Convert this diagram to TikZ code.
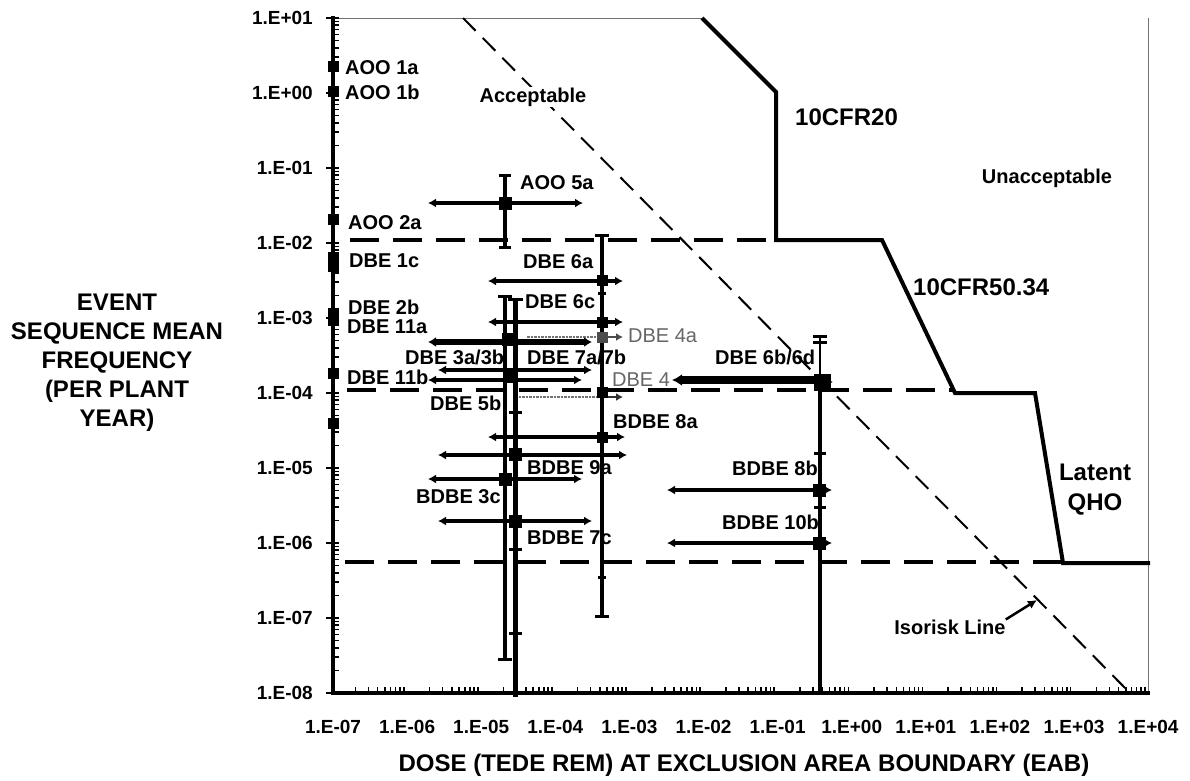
\documentclass[tikz,border=0pt]{standalone}
\usepackage{fontspec}
\setmainfont{Liberation Sans}
\usetikzlibrary{arrows.meta}
\begin{document}
\begin{tikzpicture}[x=1pt,y=-1pt,
  axisline/.style={line width=4pt},
  frameline/.style={line width=0.8pt, black!55},
  limitline/.style={line width=4pt, line join=miter},
  hdash/.style={line width=3.5pt, dash pattern=on 29pt off 14pt},
  isoline/.style={line width=2pt, dash pattern=on 18pt off 10pt},
  ebar/.style={line width=4pt},
  capline/.style={line width=3pt},
  hbar/.style={line width=4pt, {Latex[length=8pt,width=9pt]}-{Latex[length=8pt,width=9pt]}},
  thinbar/.style={line width=2.5pt, black!55, densely dotted},
  mk/.style={fill=black, minimum size=11pt, inner sep=0pt, outer sep=0pt},
  lab/.style={font=\fontsize{20}{22}\selectfont\bfseries, inner sep=0pt, anchor=west},
  glab/.style={font=\fontsize{20}{22}\selectfont, text=black!60, inner sep=0pt, anchor=west},
  ticklab/.style={font=\fontsize{19}{21}\selectfont\bfseries, inner sep=0pt},
  biglab/.style={font=\fontsize{24}{29}\selectfont\bfseries, inner sep=0pt},
]
\useasboundingbox (0,0) rectangle (1190,780);
\fill[white] (0,0) rectangle (1190,780);

% frame
\draw[frameline] (333,18) -- (702,18);
\draw[frameline] (1148,18) -- (1148,693);
\draw[axisline] (333,16) -- (333,695);
\draw[axisline] (331,693) -- (1150,693);

% minor ticks
\foreach \d in {0,...,10} \foreach \m in {2,...,9}
  \draw[line width=1.6pt] ({333+74.1*(\d+log10(\m))},693) -- ++(0,-6);
\foreach \d in {0,...,8} \foreach \m in {2,...,9}
  \draw[line width=1.6pt] (333,{693-75*(\d+log10(\m))}) -- ++(6,0);
\foreach \i in {0,...,9}
  \draw[line width=1.6pt] (326,{18+75*\i}) -- (339,{18+75*\i});

% tick labels
\foreach \e [count=\i from 0] in {+01,+00,-01,-02,-03,-04,-05,-06,-07,-08}
  \node[ticklab, anchor=east] (yl\i) at (313,{18+75*\i}) {1.E\e};
\foreach \e [count=\i from 0] in {-07,-06,-05,-04,-03,-02,-01,+00,+01,+02,+03,+04}
  \node[ticklab] (xl\i) at ({333+74.1*\i},727) {1.E\e};

% axis titles
\node[biglab] (xtitle) at (744,765) {DOSE (TEDE REM) AT EXCLUSION AREA BOUNDARY (EAB)};
\node[biglab, align=center] (ytitle) at (117,363) {EVENT\\SEQUENCE MEAN\\FREQUENCY\\(PER PLANT\\YEAR)};

% horizontal dashed guides
\draw[hdash] (350,240) -- (776,240);
\draw[hdash] (347,390) -- (955,390);
\draw[hdash] (345,562) -- (1062,562);

% isorisk line
\draw[isoline] (463,18) -- (1130,693);
\node[font=\fontsize{20}{22}\selectfont\bfseries, fill=white, inner sep=1pt] (acc) at (533,97) {Acceptable};

% limit line
\draw[limitline] (702,18) -- (776,92) -- (776,240) -- (882,240) -- (955,393) -- (1035,393) -- (1063,563) -- (1150,563);
\node[biglab, anchor=west] (cfr20) at (795,117) {10CFR20};
\node[biglab, anchor=west] (cfr50) at (913,287) {10CFR50.34};
\node[biglab, align=center, font=\fontsize{24}{30}\selectfont\bfseries] (qho) at (1095,490) {Latent\\QHO};
\node[font=\fontsize{20}{22}\selectfont\bfseries, inner sep=0pt] (unacc) at (1047,178) {Unacceptable};
\node[font=\fontsize{20}{22}\selectfont\bfseries, inner sep=0pt] (iso) at (950,627) {Isorisk Line};
\coordinate (isotip) at (1037,600);
\draw[line width=2.5pt, -{Latex[length=9pt,width=9pt]}] (iso.north east) -- (isotip);

% labels (drawn under the bars)
\node[lab] (a1a) at (345,68) {AOO 1a};
\node[lab] (a1b) at (345,92) {AOO 1b};
\node[lab] (a2a) at (348,223) {AOO 2a};
\node[lab] (a5a) at (520,183) {AOO 5a};
\node[lab] (d1c) at (349,261) {DBE 1c};
\node[lab] (d2b) at (348,307) {DBE 2b};
\node[lab] (d11a) at (347,327) {DBE 11a};
\node[lab] (d3a) at (405,357) {DBE 3a/3b};
\node[lab] (d11b) at (347,377) {DBE 11b};
\node[lab] (d5b) at (430,403) {DBE 5b};
\node[lab] (b3c) at (416,497) {BDBE 3c};
\node[lab] (d6a) at (523,262) {DBE 6a};
\node[lab] (d6c) at (525,302) {DBE 6c};
\node[glab] (d4a) at (628,336) {DBE 4a};
\node[lab] (d7a) at (527,357) {DBE 7a/7b};
\node[lab] (d6b) at (715,357) {DBE 6b/6d};
\node[glab] (d4b) at (612,380) {DBE 4};
\node[lab] (b8a) at (613,422) {BDBE 8a};
\node[lab] (b9a) at (527,468) {BDBE 9a};
\node[lab] (b8b) at (732,468) {BDBE 8b};
\node[lab] (b10b) at (722,522) {BDBE 10b};
\node[lab] (b7c) at (527,538) {BDBE 7c};

% left-axis markers
\foreach \yy [count=\k] in {66,91,219,257,266,313,320,373,423}
  \node[mk] (la\k) at (333,\yy) {};

% AOO 5a
\draw[ebar] (505,175) -- (505,247);
\draw[capline] (499,175) -- (511,175);
\draw[capline] (499,247) -- (511,247);
\draw[hbar] (428,203) -- (583,203);
\node[mk, minimum size=13pt] (p5a) at (505,203) {};

% column at x=602
\draw[ebar] (602,235) -- (602,616);
\foreach \yy in {235,616} \draw[capline] (595,\yy) -- (609,\yy);
\foreach \yy in {293,577} \draw[capline] (598,\yy) -- (606,\yy);
\draw[hbar] (488,281) -- (623,281);
\draw[hbar] (488,322) -- (623,322);
\draw[thinbar] (527,337) -- (612,337);
\draw[line width=2.5pt, black!70, -{Latex[length=7pt,width=8pt]}] (605,337) -- (623,337);
\draw[thinbar] (515,397) -- (612,397);
\draw[line width=2.5pt, black!80, -{Latex[length=7pt,width=8pt]}] (605,397) -- (623,397);
\draw[hbar] (488,437) -- (625,437);
\node[mk] (p6a) at (602,280) {};
\node[mk] (p6c) at (602,322) {};
\node[mk, fill=black!70] (p4a) at (602,337) {};
\node[mk] (p4b) at (602,392) {};
\node[mk] (p8a) at (602,437) {};

% columns at x=505 and 515
\draw[ebar] (505,296) -- (505,659);
\draw[line width=5pt] (515,299) -- (515,697);
\draw[capline] (498,296) -- (512,296);
\draw[capline] (508,299) -- (523,299);
\draw[capline] (498,659) -- (512,659);
\foreach \yy in {412,549,633} \draw[capline] (509,\yy) -- (522,\yy);
\draw[line width=6.5pt, {Latex[length=8pt,width=10pt]}-{Latex[length=8pt,width=10pt]}] (428,342) -- (592,342);
\draw[hbar] (438,370) -- (592,370);
\draw[hbar] (428,380) -- (582,380);
\draw[hbar] (438,455) -- (627,455);
\draw[hbar] (428,479) -- (582,479);
\draw[hbar] (438,521) -- (592,521);
\node[mk, minimum size=13pt] (p3a) at (508,339) {};
\node[mk, minimum size=13pt] (p11) at (510,376) {};
\node[mk, minimum size=13pt] (p9a) at (515,454) {};
\node[mk, minimum size=13pt] (p3c) at (505,479) {};
\node[mk, minimum size=13pt] (p7c) at (515,521) {};

% column at x=820
\draw[line width=1.5pt] (820,337) -- (820,380);
\draw[capline] (813,336) -- (827,336);
\draw[capline] (813,342) -- (827,342);
\draw[ebar] (820,380) -- (820,695);
\foreach \yy in {453,507} \draw[capline] (814,\yy) -- (826,\yy);
\draw[line width=8pt, {Latex[length=10pt,width=12pt]}-] (672,380) -- (822,380);
\draw[line width=3pt, -{Latex[length=8pt,width=10pt]}] (822,382) -- (833,382);
\node[mk, minimum size=17pt] (p6b) at (822,382) {};
\draw[hbar] (667,490) -- (832,490);
\draw[hbar] (667,543) -- (832,543);
\node[mk, minimum size=13pt] (p8b) at (819,490) {};
\node[mk, minimum size=13pt] (p10b) at (819,543) {};
\end{tikzpicture}
\end{document}
